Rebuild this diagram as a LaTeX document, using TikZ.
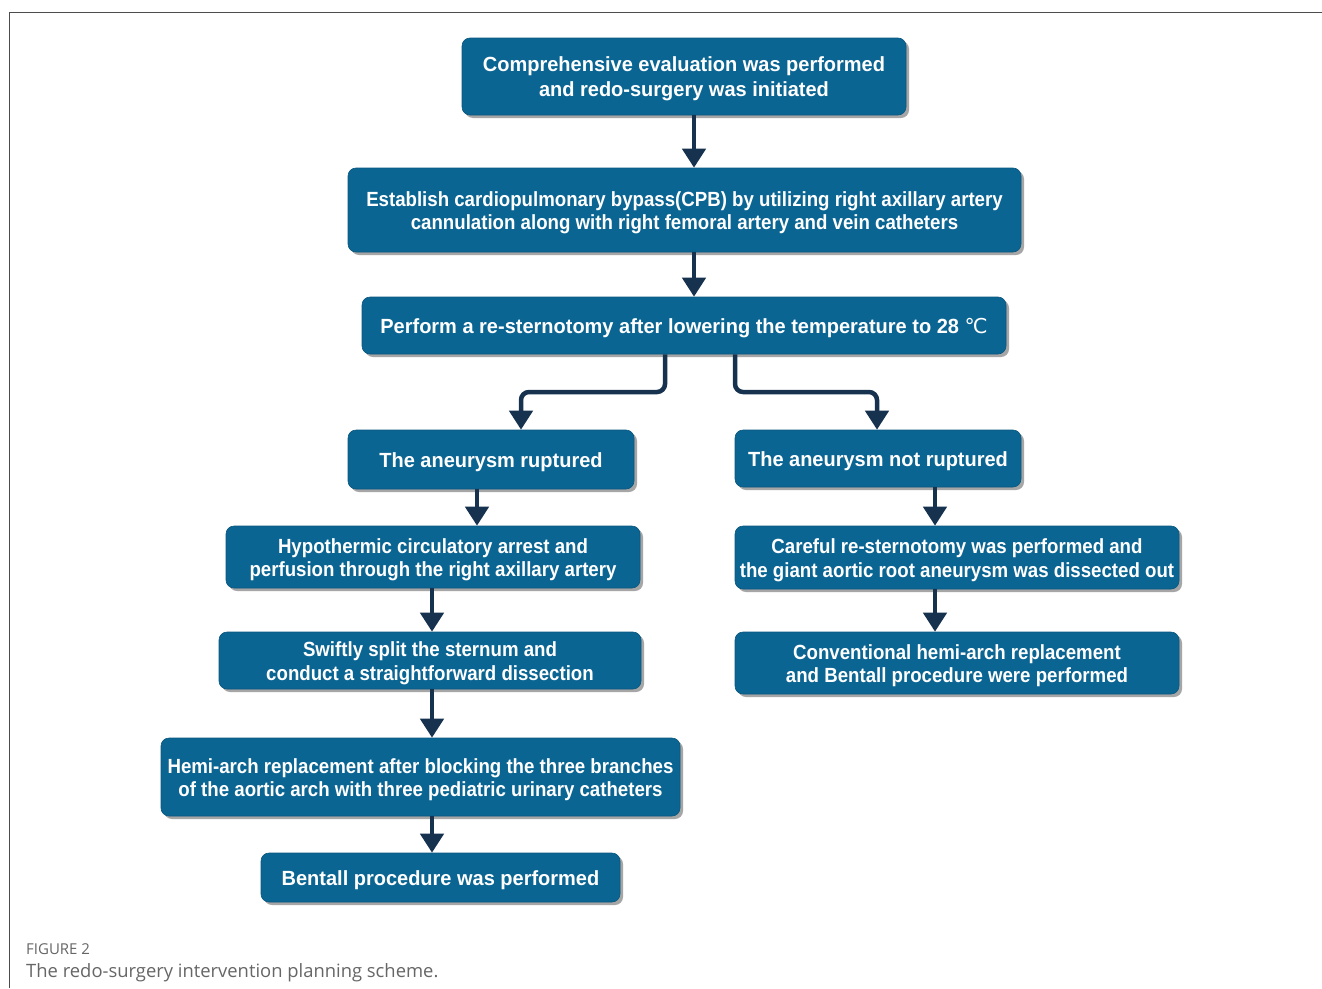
\documentclass[tikz,border=0pt]{standalone}
\usepackage{fontspec}
\setmainfont{Liberation Sans}
\newfontfamily\bxw[FakeStretch=0.975]{Liberation Sans}
\newfontfamily\bxn[FakeStretch=0.91]{Liberation Sans}
\newfontfamily\capfont{Open Sans}
\newfontfamily\degfont{DejaVu Sans}
\usetikzlibrary{arrows.meta,shadows}
\definecolor{boxblue}{HTML}{0B6593}
\definecolor{arrownavy}{HTML}{16324F}
\definecolor{capgray}{HTML}{666666}
\tikzset{
  stepbox/.style={draw=boxblue!85!black, line width=0.6pt, fill=boxblue, rounded corners=8pt,
    inner sep=0pt,
    drop shadow={shadow xshift=3pt, shadow yshift=-3pt, fill=black!35, opacity=1}},
  boxtext/.style={text=white, align=center, inner sep=0pt, yshift=-2.5pt,
    font=\bxn\bfseries\fontsize{20.5}{23.5}\selectfont},
  widetext/.style={boxtext, font=\bxw\bfseries\fontsize{20.5}{23.5}\selectfont},
  flow/.style={draw=arrownavy, line width=4.5pt, rounded corners=8pt,
    -{Triangle[width=23pt,length=19pt]}, arrownavy}
}
\begin{document}
\begin{tikzpicture}[x=1pt,y=-1pt]
\useasboundingbox (0,0) rectangle (1322,988);
\fill[white] (0,0) rectangle (1322,988);
\draw[black!70, line width=1pt] (9,988) -- (9,12) -- (1322,12);

\node[stepbox, minimum width=444pt, minimum height=77pt,
  label={[widetext, font=\bxw\bfseries\fontsize{20.5}{25}\selectfont]center:{Comprehensive evaluation was performed\\and redo-surgery was initiated}}] (n1) at (684,76.5) {};
\node[stepbox, minimum width=673pt, minimum height=84pt,
  label={[boxtext]center:{Establish cardiopulmonary bypass(CPB) by utilizing right axillary artery\\cannulation along with right femoral artery and vein catheters}}] (n2) at (684.5,210) {};
\node[stepbox, minimum width=644pt, minimum height=57pt,
  label={[widetext]center:{Perform a re-sternotomy after lowering the temperature to 28 {\degfont\mdseries ℃}}}] (n3) at (684,325.5) {};
\node[stepbox, minimum width=286pt, minimum height=59pt,
  label={[widetext]center:{The aneurysm ruptured}}] (n4) at (491,459.5) {};
\node[stepbox, minimum width=286pt, minimum height=57pt,
  label={[widetext]center:{The aneurysm not ruptured}}] (n5) at (878,458.5) {};
\node[stepbox, minimum width=414pt, minimum height=62pt,
  label={[boxtext]center:{Hypothermic circulatory arrest and\\perfusion through the right axillary artery}}] (n6) at (433,557) {};
\node[stepbox, minimum width=422pt, minimum height=57pt,
  label={[boxtext]center:{Swiftly split the sternum and\\conduct a straightforward dissection}}] (n7) at (430,660.5) {};
\node[stepbox, minimum width=519pt, minimum height=78pt,
  label={[boxtext]center:{Hemi-arch replacement after blocking the three branches\\of the aortic arch with three pediatric urinary catheters}}] (n8) at (420.5,777) {};
\node[stepbox, minimum width=359pt, minimum height=49pt,
  label={[widetext]center:{Bentall procedure was performed}}] (n9) at (440.5,877.5) {};
\node[stepbox, minimum width=444pt, minimum height=63pt,
  label={[boxtext]center:{Careful re-sternotomy was performed and\\the giant aortic root aneurysm was dissected out}}] (n10) at (957,557.5) {};
\node[stepbox, minimum width=444pt, minimum height=62pt,
  label={[boxtext]center:{Conventional hemi-arch replacement\\and Bentall procedure were performed}}] (n11) at (957,663) {};

\draw[flow] (n1.south -| 694,0) -- (n2.north -| 694,0);
\draw[flow] (n2.south -| 694,0) -- (n3.north -| 694,0);
\draw[flow] (n3.south -| 665,0) -- (665,392) -- (521,392) -- (n4.north -| 521,0);
\draw[flow] (n3.south -| 735,0) -- (735,392) -- (877,392) -- (n5.north -| 877,0);
\draw[flow] (n4.south -| 477,0) -- (n6.north -| 477,0);
\draw[flow] (n6.south -| 432,0) -- (n7.north -| 432,0);
\draw[flow] (n7.south -| 432,0) -- (n8.north -| 432,0);
\draw[flow] (n8.south -| 432,0) -- (n9.north -| 432,0);
\draw[flow] (n5.south -| 935,0) -- (n10.north -| 935,0);
\draw[flow] (n10.south -| 935,0) -- (n11.north -| 935,0);

\node[anchor=base west, inner sep=0pt, text=capgray, font=\capfont\fontsize{15}{17}\selectfont] (cap1) at (26,954) {FIGURE 2};
\node[anchor=base west, inner sep=0pt, text=capgray, font=\capfont\fontsize{18.4}{20}\selectfont] (cap2) at (26,977) {The redo-surgery intervention planning scheme.};
\end{tikzpicture}
\end{document}
